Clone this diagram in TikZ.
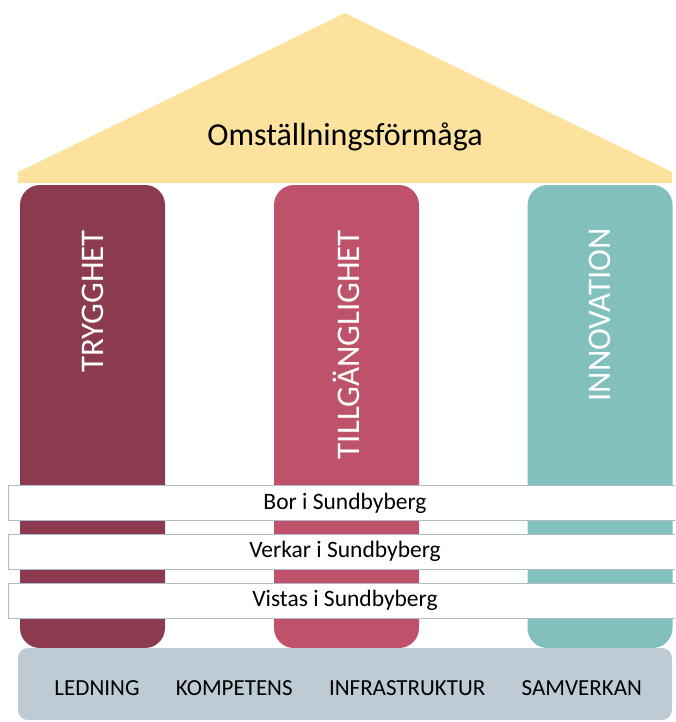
\documentclass[tikz,border=0pt]{standalone}
\usepackage{fontspec}
\setmainfont{Carlito}
\usetikzlibrary{positioning}
\definecolor{RoofClr}{HTML}{FCE29D}
\definecolor{TryggClr}{HTML}{8B3A50}
\definecolor{TillgClr}{HTML}{BE526B}
\definecolor{InnovClr}{HTML}{82C0BE}
\definecolor{BaseClr}{HTML}{BDCBD4}
\definecolor{BandClr}{HTML}{AFBCC8}

\begin{document}
\begin{tikzpicture}[x=1pt,y=-1pt,
  pillar/.style={rounded corners=20pt,minimum width=145pt,minimum height=463pt,inner sep=0pt},
  pillartext/.style={rotate=90,anchor=east,inner sep=0pt,text=white,font=\fontsize{33}{33}\selectfont},
  band/.style={draw=BandClr,fill=white,line width=0.8pt,minimum width=674pt,minimum height=35pt,inner sep=0pt,font=\fontsize{23.5}{23.5}\selectfont},
  baselabel/.style={inner sep=0pt,font=\fontsize{23}{23}\selectfont}]
\clip (0,0) rectangle (675,722);

% tak
\fill[RoofClr] (18,183) -- (18,172) -- (337,17) .. controls (345,12) .. (353,17)
  -- (672,172) -- (672,183) -- cycle;
\node[font=\fontsize{32}{32}\selectfont] (roof) at (345,137) {Omställningsförmåga};

% pelare
\node[pillar,fill=TryggClr] (trygg) at (92.5,416.5) {};
\node[pillar,fill=TillgClr] (tillg) at (346.5,416.5) {};
\node[pillar,fill=InnovClr] (innov) at (600,416.5) {};

\node[pillartext] (tryggtext) at ([yshift=-45pt]trygg.north) {TRYGGHET};
\node[pillartext] (tillgtext) at ([yshift=-45pt]tillg.north) {TILLGÄNGLIGHET};
\node[pillartext] (innovtext) at ([yshift=-43pt]innov.north) {INNOVATION};

% band
\node[band] (bor) at (345,503) {Bor i Sundbyberg};
\node[band] (verkar) at (345,551.5) {Verkar i Sundbyberg};
\node[band] (vistas) at (345,600.5) {Vistas i Sundbyberg};

% grund
\node[fill=BaseClr,rounded corners=10pt,minimum width=654pt,minimum height=72pt] (base) at (345,684) {};
\node[baselabel] (ledning) at (97,688) {LEDNING};
\node[baselabel,right=36pt of ledning] (kompetens) {KOMPETENS};
\node[baselabel,right=36pt of kompetens] (infra) {INFRASTRUKTUR};
\node[baselabel,right=36pt of infra] (samverkan) {SAMVERKAN};

\end{tikzpicture}
\end{document}
